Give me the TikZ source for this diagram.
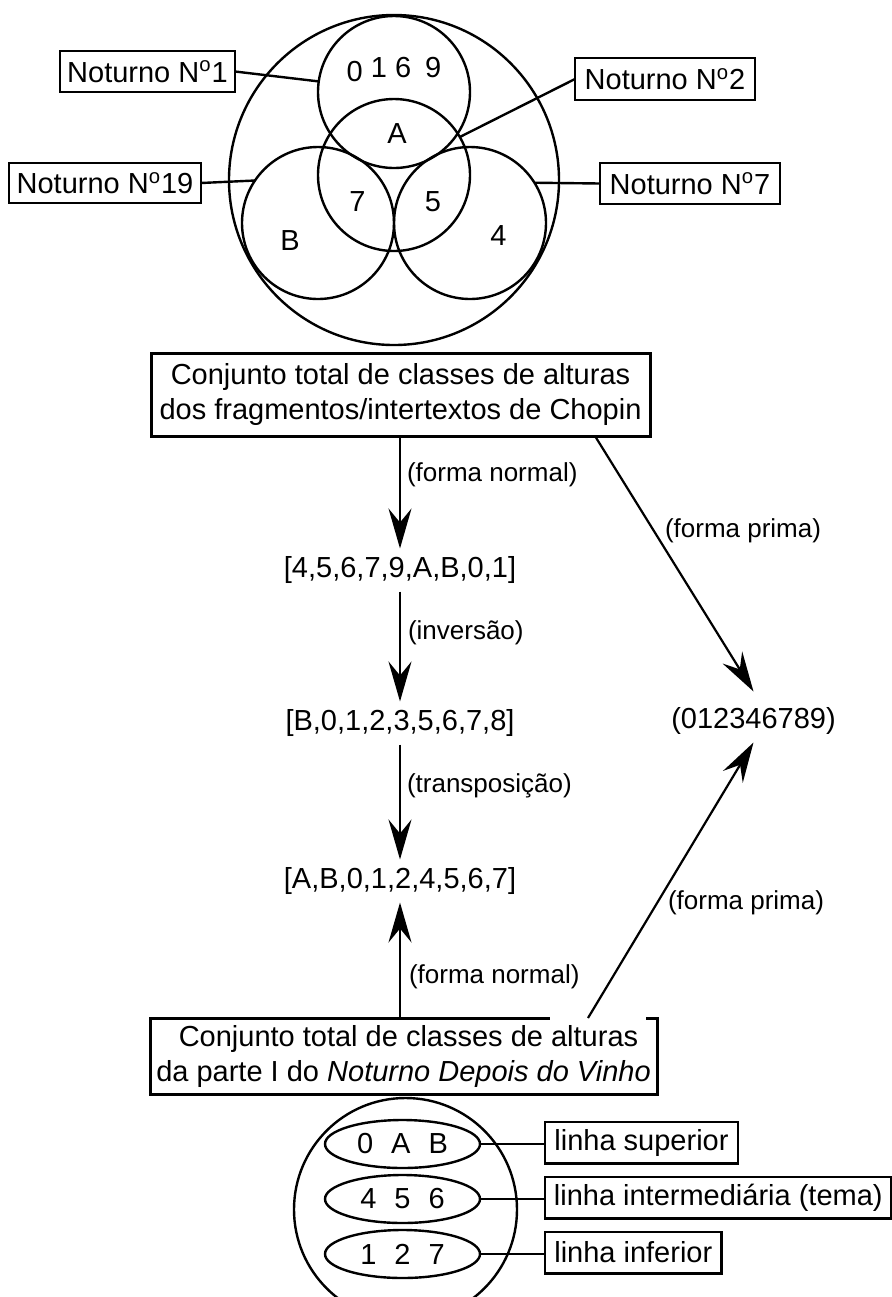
\documentclass[tikz,border=0pt]{standalone}
\usepackage{fontspec}
\setmainfont{Liberation Sans}
\usetikzlibrary{shapes.geometric,arrows.meta}
\begin{document}
\begin{tikzpicture}[x=0.5pt,y=-0.5pt,
  every node/.style={font=\fontsize{14.5}{17.5}\selectfont, inner sep=0pt, outer sep=0pt},
  venn/.style={circle, draw, line width=1.2pt, minimum size=76pt},
  nbox/.style={rectangle, draw, line width=1.2pt, minimum height=20.5pt},
  bigbox/.style={rectangle, draw, line width=1.5pt, align=center},
  conn/.style={line width=1.2pt},
  arr/.style={line width=1.1pt, -{Stealth[length=20pt,width=11.5pt,inset=7pt]}},
  lbl/.style={font=\fontsize{13}{15}\selectfont, anchor=west},
  setn/.style={inner sep=4pt},
  oval/.style={ellipse, draw, line width=1.2pt, minimum width=77.5pt, minimum height=24pt},
  lbox/.style={rectangle, draw, line width=1.2pt, minimum height=20.8pt, inner xsep=4pt}
]
\useasboundingbox (0,0) rectangle (892,1297);
\clip (0,0) rectangle (892,1297);

% ---------- top Venn diagram ----------
\node[circle, draw, line width=1.2pt, minimum size=165pt] (U) at (394,180) {};
\node[venn] (C1) at (394,92) {};
\node[venn] (C2) at (394,175) {};
\node[venn] (C19) at (318,223) {};
\node[venn] (C7) at (470,223) {};

\node (t0169) at (394,70) {\raisebox{-2pt}{0} 1 6\hspace{3pt} 9};
\node (tA) at (397,134) {A};
\node (t7) at (357.5,201.5) {7};
\node (t5) at (433,202) {5};
\node (tB) at (290,241) {B};
\node (t4) at (498.5,236) {4};

\node[nbox, minimum width=87.5pt] (b1) at (147.5,71.5) {Noturno N\textsuperscript{o}1};
\node[nbox, minimum width=96pt, minimum height=20pt] (b19) at (105,183) {Noturno N\textsuperscript{o}19};
\node[nbox, minimum width=90pt, minimum height=21pt] (b2) at (665,79) {Noturno N\textsuperscript{o}2};
\node[nbox, minimum width=90pt] (b7) at (690,183.5) {Noturno N\textsuperscript{o}7};

\draw[conn] (b1.east) -- (C1.172);
\draw[conn] (b19.east) -- (C19.146);
\draw[conn] (b2.west) -- (C2.30);
\draw[conn] (b7.west) -- (C7.32);

% ---------- chain ----------
\node[bigbox, minimum width=249.5pt, minimum height=41.5pt] (chopin) at (400.5,394.5)
  {Conjunto total de classes de alturas\\dos fragmentos/intertextos de Chopin};

\node[setn] (s1) at (400,570) {[4,5,6,7,9,A,B,0,1]};
\node[setn] (s2) at (400,723) {[B,0,1,2,3,5,6,7,8]};
\node[setn] (s3) at (400,881) {[A,B,0,1,2,4,5,6,7]};
\node[setn] (prime) at (753.5,721) {(012346789)};

\node[bigbox, minimum width=253.5pt, minimum height=38pt] (bot) at (403.5,1056)
  {\hspace*{5pt}Conjunto total de classes de alturas\\da parte I do \textit{Noturno Depois do Vinho}};
\fill[white] (550,1015) rectangle (646,1021);

\draw[arr] (s1.north |- chopin.south) -- (s1.north);
\draw[arr] (s1.south) -- (s2.north);
\draw[arr] (s2.south) -- (s3.north);
\draw[arr] (s3.south |- bot.north) -- (s3.south);
\draw[arr] ([xshift=-27.5pt]chopin.south east) -- ([yshift=4pt]prime.north);
\draw[arr] ([xshift=-34.5pt]bot.north east) -- (prime.south);

\node[lbl] (l1) at (407,475) {(forma normal)};
\node[lbl] (l2) at (408,633) {(inversão)};
\node[lbl] (l3) at (407,786) {(transposição)};
\node[lbl] (l4) at (409,977) {(forma normal)};
\node[lbl] (l5) at (665,531) {(forma prima)};
\node[lbl] (l6) at (668,903) {(forma prima)};

% ---------- bottom group ----------
\node[circle, draw, line width=1.2pt, minimum size=111.5pt] (grp) at (405.5,1209.5) {};
\node[oval] (e1) at (402.5,1144) {0\hspace{9pt}A\hspace{9pt}B};
\node[oval] (e2) at (402.5,1199) {4\hspace{9pt}5\hspace{9pt}6};
\node[oval] (e3) at (402.5,1254) {1\hspace{9pt}2\hspace{9pt}7};

\node[lbox, minimum width=96.5pt] (L1) at (641.5,1142.5) {linha superior};
\node[lbox, minimum width=173.3pt] (L2) at (718.3,1197.5) {linha intermediária (tema)};
\node[lbox, minimum width=88.3pt] (L3) at (633.3,1252.5) {linha inferior};

\draw[conn] (e1.east) -- (e1.east -| L1.west);
\draw[conn] (e2.east) -- (e2.east -| L2.west);
\draw[conn] (e3.east) -- (e3.east -| L3.west);
\end{tikzpicture}
\end{document}
